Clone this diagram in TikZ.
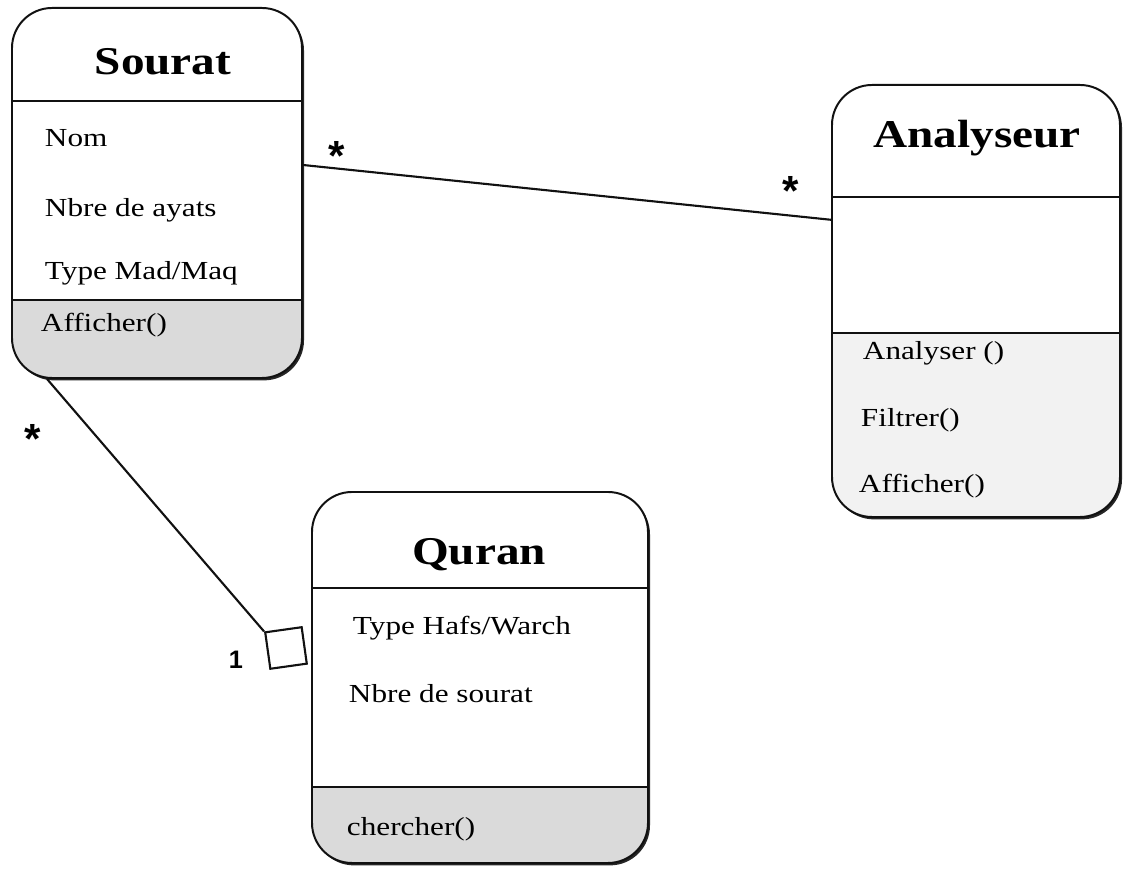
\documentclass[tikz,border=0pt]{standalone}
\usepackage{fontspec}
\setmainfont{Liberation Serif}[FakeStretch=1.2]
\newfontfamily\labelfont{Liberation Sans}
\usetikzlibrary{positioning, shadows}
\definecolor{cline}{HTML}{111111}
\definecolor{cshade}{HTML}{DADADA}
\tikzset{
  every picture/.style={line width=1.4pt},
  classbox/.style 2 args={draw=cline, fill=white, rounded corners=1cm, inner sep=0pt,
    drop shadow={shadow xshift=0.05cm, shadow yshift=-0.06cm, fill=black, opacity=0.85},
    path picture={\fill[#2, sharp corners] (path picture bounding box.south west) rectangle ([yshift=#1]path picture bounding box.south east);}},
  title/.style={font=\bfseries\fontsize{28}{30}\selectfont, anchor=base, inner sep=0pt},
  attr/.style={font=\fontsize{18.5}{20}\selectfont, anchor=base west, inner sep=0pt},
  mult/.style={font=\labelfont\bfseries\fontsize{30}{30}\selectfont, anchor=base, inner sep=0pt},
}

\begin{document}
\begin{tikzpicture}[
  sep/.style={draw=cline, line width=1.6pt},
  assoc/.style={draw=cline, line width=1.5pt},
  aggbox/.style={draw=cline, fill=white, minimum size=0.92cm, inner sep=0pt, line width=1.5pt}]
  \useasboundingbox (0,0) rectangle (28.1,21.775);
  % classes
  \node[classbox={1.95cm}{cshade}, minimum width=7.25cm, minimum height=9.25cm] (sourat) at (3.925,16.95) {};
  \node[classbox={4.6cm}{cshade!35}, minimum width=7.2cm, minimum height=10.8cm] (analyseur) at (24.4,14.25) {};
  \node[classbox={1.9cm}{cshade}, minimum width=8.4cm, minimum height=9.275cm] (quran) at (12.0,4.8375) {};
  % compartments
  \draw[sep] (sourat.west |- 0,19.25) -- (sourat.east |- 0,19.25);
  \draw[sep] (sourat.west |- 0,14.275) -- (sourat.east |- 0,14.275);
  \draw[sep] (analyseur.west |- 0,16.85) -- (analyseur.east |- 0,16.85);
  \draw[sep] (analyseur.west |- 0,13.45) -- (analyseur.east |- 0,13.45);
  \draw[sep] (quran.west |- 0,7.075) -- (quran.east |- 0,7.075);
  \draw[sep] (quran.west |- 0,2.1) -- (quran.east |- 0,2.1);
  % Sourat
  \node[title] (tsourat) at (4.075,19.9) {Sourat};
  \node[attr] (snom) at (1.1,18.1) {Nom};
  \node[attr] (snbre) at (1.1,16.35) {Nbre de ayats};
  \node[attr] (stype) at (1.1,14.775) {Type Mad/Maq};
  \node[attr] (saff) at (1.0,13.475) {Afficher()};
  % Analyseur
  \node[title] (tanalyseur) at (24.425,18.075) {Analyseur};
  \node[attr] (aana) at (21.55,12.775) {Analyser ()};
  \node[attr] (afil) at (21.5,11.1) {Filtrer()};
  \node[attr] (aaff) at (21.45,9.45) {Afficher()};
  % Quran
  \node[title] (tquran) at (11.975,7.65) {Quran};
  \node[attr] (qtype) at (8.8,5.9) {Type Hafs/Warch};
  \node[attr] (qnbre) at (8.7,4.2) {Nbre de sourat};
  \node[attr] (qch) at (8.65,0.875) {chercher()};
  % links
  \node[aggbox, rotate=8] (agg) at (7.15,5.575) {};
  \draw[assoc] ([yshift=0.7cm]sourat.east) -- ([yshift=2.03cm]analyseur.west);
  \draw[assoc] ([xshift=0.9cm]sourat.south west) -- (agg.north west);
  % multiplicities
  \node[mult] (m1) at (8.425,17.52) {*};
  \node[mult] (m2) at (19.775,16.645) {*};
  \node[mult] (m3) at (0.825,10.445) {*};
  \node[font=\labelfont\bfseries\fontsize{18}{18}\selectfont, inner sep=0pt] (m4) at (5.9,5.275) {1};
\end{tikzpicture}
\end{document}
